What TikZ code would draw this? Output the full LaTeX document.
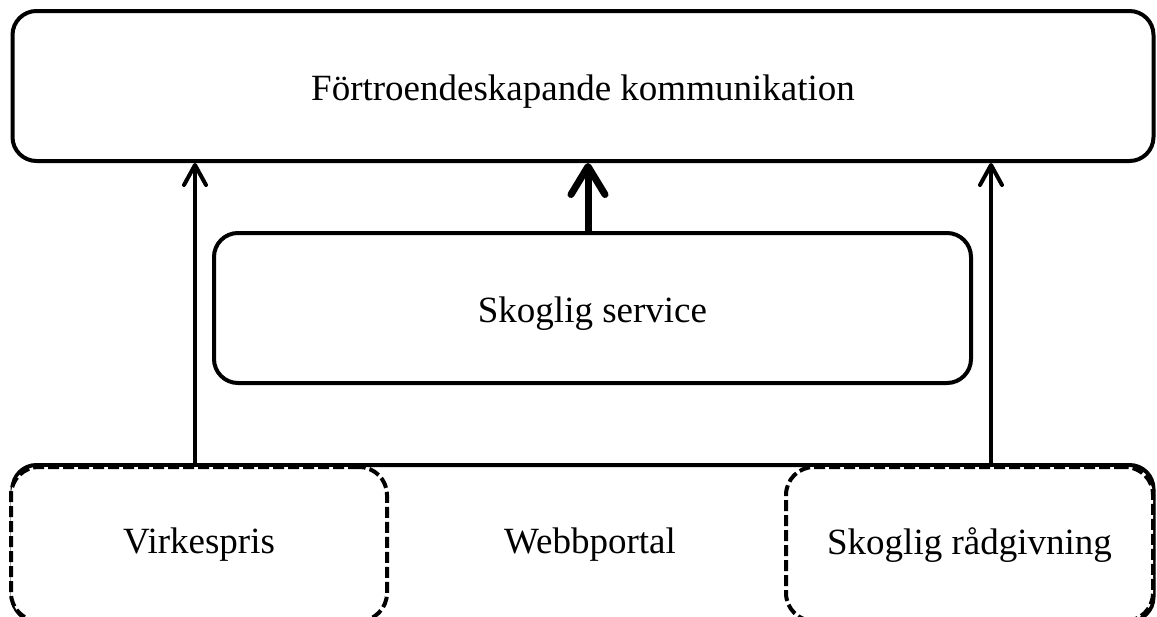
\documentclass[tikz,border=0pt]{standalone}
\usepackage{fontspec}
\setmainfont{Liberation Serif}
\usetikzlibrary{arrows.meta}
\begin{document}
\begin{tikzpicture}[x=1pt,y=-1pt,
  solidbox/.style={draw, line width=4pt, rounded corners=24pt, inner sep=0pt,
    minimum height=150pt},
  dashbox/.style={draw, line width=4pt, rounded corners=28pt, fill=white,
    dash pattern=on 11pt off 4pt, inner sep=0pt},
  label/.style={font=\fontsize{37}{40}\selectfont, inner sep=0pt, yshift=-6pt},
  thinarrow/.style={line width=4pt,
    -{Straight Barb[length=20pt,width=22pt,line cap=round,line join=round]}},
  thickarrow/.style={line width=7pt,
    -{Straight Barb[length=28pt,width=34pt,line cap=round,line join=round]}}]
  \useasboundingbox (0,0) rectangle (1157,616);
  \begin{scope}
    \clip (0,0) rectangle (1157,616);
    % top level
    \node[solidbox, minimum width=1141pt] (trust) at (583,86) {};
    \node[label] (trusttext) at (trust.center) {Förtroendeskapande kommunikation};
    % middle level
    \node[solidbox, minimum width=757pt] (service) at (592.5,308) {};
    \node[label] (servicetext) at (service.center) {Skoglig service};
    % bottom level: portal with its two parts
    \node[solidbox, minimum width=1141pt, minimum height=156pt] (portal) at (583,543) {};
    \node[dashbox, minimum width=376pt, minimum height=154pt] (price) at (199,544) {};
    \node[dashbox, minimum width=367pt, minimum height=154pt] (advice) at (969.5,544) {};
    \node[label] (portaltext) at (590,539) {Webbportal};
    \node[label] (pricetext) at (199,539) {Virkespris};
    \node[label] (advicetext) at (969.5,539) {Skoglig rådgivning};
    % connectors
    \coordinate (lx) at (195,0);
    \coordinate (rx) at (991,0);
    \coordinate (mx) at (588,0);
    \draw[thinarrow] (portal.north -| lx) -- (trust.south -| lx);
    \draw[thinarrow] (portal.north -| rx) -- (trust.south -| rx);
    \draw[thickarrow] (service.north -| mx) -- (trust.south -| mx);
  \end{scope}
\end{tikzpicture}
\end{document}
